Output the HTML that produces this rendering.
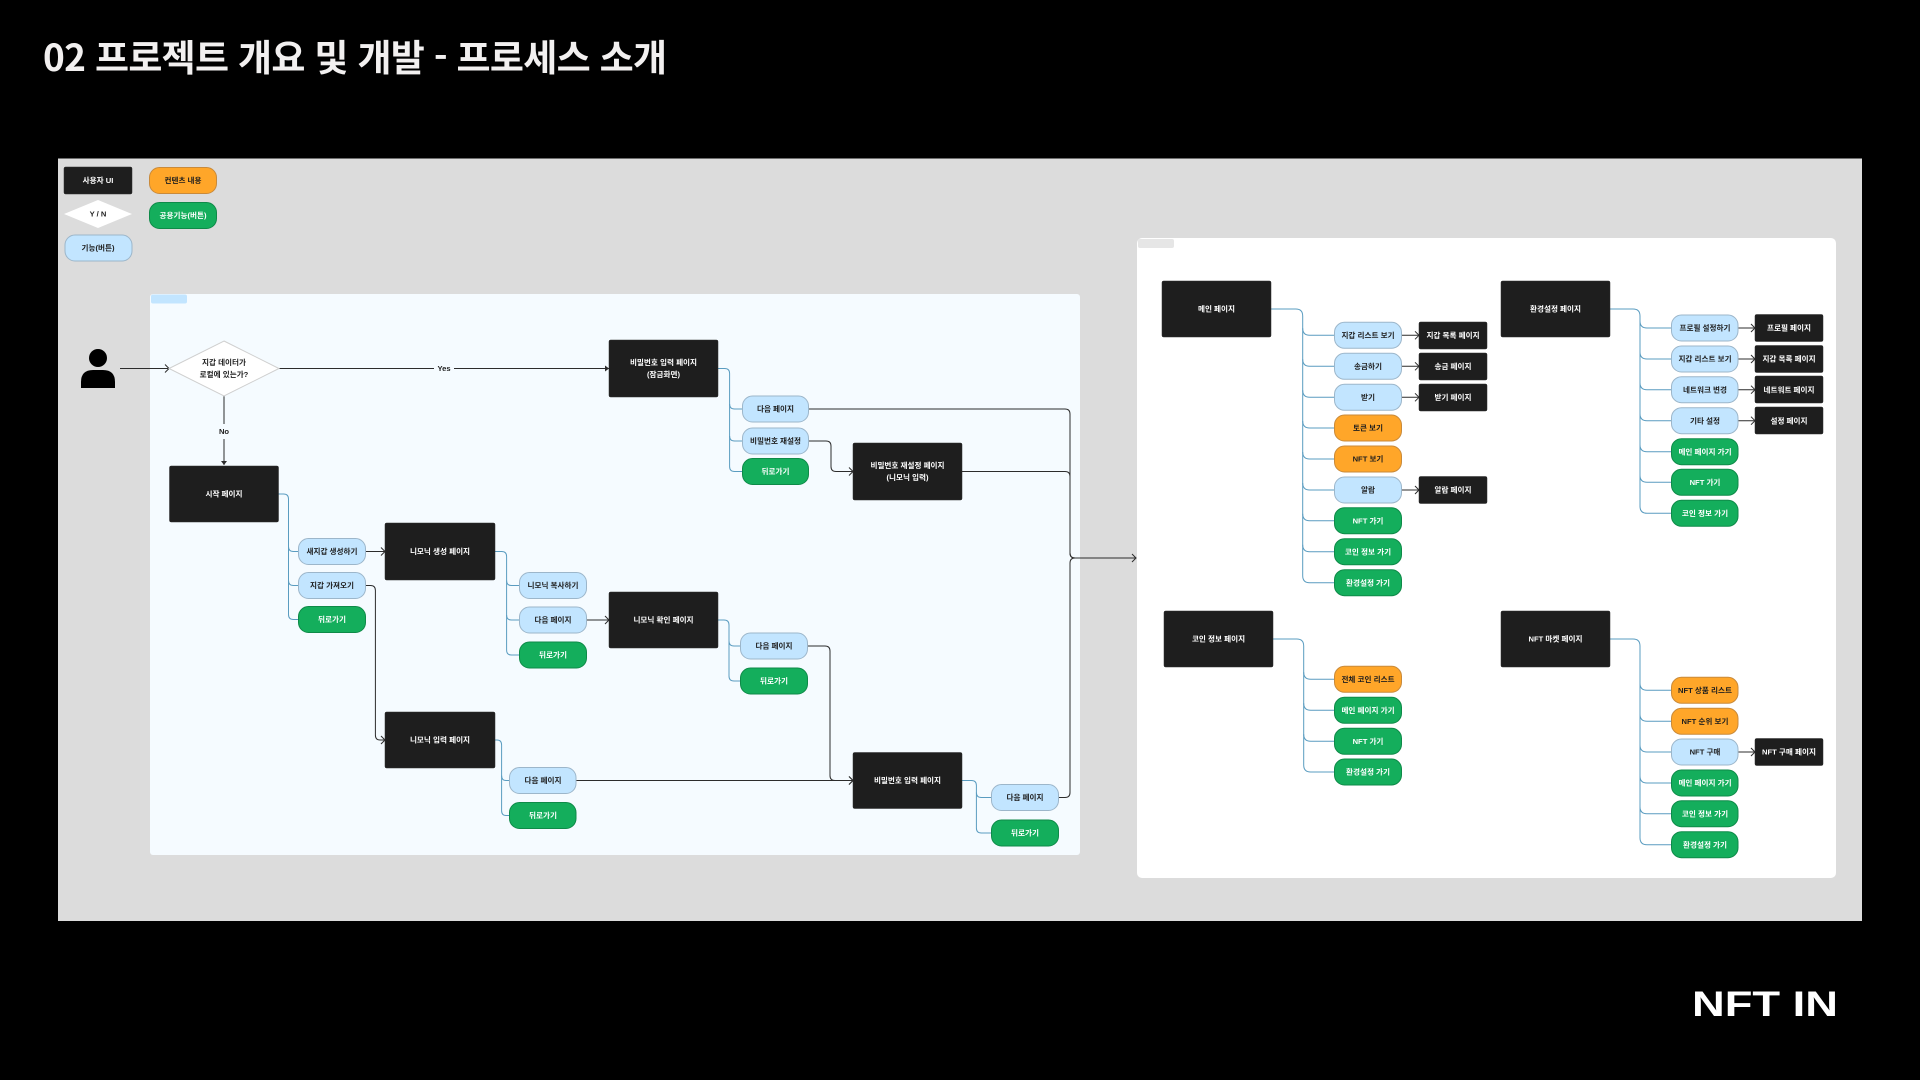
<!DOCTYPE html>
<html lang="ko"><head><meta charset="utf-8"><title>프로세스 소개</title>
<style>
html,body{margin:0;padding:0;background:#000;width:1920px;height:1080px;overflow:hidden}
svg{display:block}
text{font-family:"Liberation Sans","Noto Sans CJK KR",sans-serif;text-anchor:middle;font-size:7.6px;font-weight:700;dominant-baseline:central;transform:translateY(.2px)}
.k rect{fill:#1e1e1e;stroke:#2c2c2c;stroke-width:.5}
.k text{fill:#fff}
.b rect{fill:#c2e5ff;stroke:#9cb6ca;stroke-width:1}
.b text{fill:#1e1e1e}
.o rect{fill:#ffa629;stroke:#c98a3a;stroke-width:1}
.o text{fill:#1e1e1e}
.g rect{fill:#14ae5c;stroke:#0e8a48;stroke-width:1}
.g text{fill:#fff}
.t text{fill:#1e1e1e}
.tr path{fill:none;stroke:#5a9cc0;stroke-width:1}
.dk path,.dk line{fill:none;stroke:#2c2c2c;stroke-width:1}
</style></head><body>
<svg width="1920" height="1080" viewBox="0 0 1920 1080" xmlns="http://www.w3.org/2000/svg">
<defs>
<marker id="o" markerUnits="userSpaceOnUse" markerWidth="12" markerHeight="12" refX="6" refY="6" orient="auto" overflow="visible"><path d="M2 2L6 6L2 10" fill="none" stroke="#2c2c2c" stroke-width="1"/></marker>
<marker id="f" markerUnits="userSpaceOnUse" markerWidth="8" markerHeight="8" refX="4" refY="4" orient="auto" overflow="visible"><path d="M0 1L4 4L0 7Z" fill="#2c2c2c"/></marker>
</defs>
<rect width="1920" height="1080" fill="#000"/>
<text x="355" y="55" style="font-family:'Noto Sans CJK KR',sans-serif;font-size:37px;font-weight:700;fill:#f2f0f0;transform:none" textLength="624" lengthAdjust="spacing">02 프로젝트 개요 및 개발 - 프로세스 소개</text>

<rect x="58" y="158.500" width="1804" height="762.500" fill="#dcdcdc"/>
<rect x="150" y="294" width="930" height="561" rx="3" fill="#f5fbff"/>
<rect x="151" y="294.500" width="36" height="9" rx="2" fill="#c2e5ff"/>
<rect x="1137" y="238" width="699" height="640" rx="5" fill="#fff"/>
<rect x="1138" y="239" width="36" height="9" rx="2" fill="#e6e6e6"/>

<!-- legend -->
<g class="k"><rect x="64" y="167" width="68" height="27" rx="1.500"/><text x="98" y="180.500">사용자 UI</text></g>
<polygon points="98,200 132,214 98,228 64,214" fill="#fff"/><g class="t"><text x="98" y="214">Y / N</text></g>
<g class="b"><rect x="65" y="235" width="67" height="26" rx="10"/><text x="98" y="248">기능(버튼)</text></g>
<g class="o"><rect x="149.500" y="167.500" width="67" height="26" rx="10"/><text x="183" y="180.500">컨텐츠 내용</text></g>
<g class="g"><rect x="149.500" y="202.500" width="67" height="26" rx="10"/><text x="183" y="215.500">공용기능(버튼)</text></g>

<!-- person -->
<circle cx="98" cy="358" r="9" fill="#000"/>
<path d="M81 388V382Q81 370 93 370H103Q115 370 115 382V388Z" fill="#000"/>

<!-- dark connectors -->
<g class="dk">
<path d="M120 368.500H169" marker-end="url(#o)"/>
<path d="M279 368.500H609" marker-end="url(#f)"/>
<path d="M224 396V465" marker-end="url(#f)"/>
<path d="M366 551.500H385" marker-end="url(#o)"/>
<path d="M366 585.500H370.500Q375.400 585.500 375.400 590.500V735Q375.400 740 380 740H385" marker-end="url(#o)"/>
<path d="M587 620H609" marker-end="url(#o)"/>
<path d="M576 780.500H853" marker-end="url(#o)"/>
<path d="M808 646H825Q830 646 830 651V775.500Q830 780.500 835 780.500H853" marker-end="url(#o)"/>
<path d="M809 441H826Q831 441 831 446V466.500Q831 471.500 836 471.500H853" marker-end="url(#o)"/>
<path d="M809 409H1065Q1070 409 1070 414V553Q1070 558 1075 558"/>
<path d="M962 471.500H1065Q1070 471.500 1070 476.500V553Q1070 558 1075 558H1136" marker-end="url(#o)"/>
<path d="M1059 797.500H1065Q1070 797.500 1070 792.500V563Q1070 558 1075 558"/>
<path d="M1402 335.300H1419" marker-end="url(#o)"/>
<path d="M1402 366.300H1419" marker-end="url(#o)"/>
<path d="M1402 397.300H1419" marker-end="url(#o)"/>
<path d="M1402 490H1419" marker-end="url(#o)"/>
<path d="M1738 328H1755" marker-end="url(#o)"/>
<path d="M1738 359H1755" marker-end="url(#o)"/>
<path d="M1738 389.700H1755" marker-end="url(#o)"/>
<path d="M1738 420.700H1755" marker-end="url(#o)"/>
<path d="M1738 752H1755" marker-end="url(#o)"/>
</g>
<rect x="434" y="362" width="20" height="12" fill="#f5fbff"/>
<rect x="216" y="424" width="16" height="15" fill="#f5fbff"/>
<g class="t"><text x="444" y="368.500">Yes</text><text x="224" y="431.500">No</text></g>

<!-- tree connectors -->
<g class="tr">
<path d="M278.500 494H283.500Q288.500 494 288.500 499V614.500Q288.500 619.500 293.500 619.500H298"/>
<path d="M288.500 546.500Q288.500 551.500 293.500 551.500H298M288.500 580.500Q288.500 585.500 293.500 585.500H298"/>
<path d="M495 551.500H501.600Q506.600 551.500 506.600 556.500V650Q506.600 655 511.600 655H519"/>
<path d="M506.600 580.500Q506.600 585.500 511.600 585.500H519M506.600 615Q506.600 620 511.600 620H519"/>
<path d="M495 740H497Q501.600 740 501.600 745V810.500Q501.600 815.500 506 815.500H509"/>
<path d="M501.600 775.500Q501.600 780.500 506 780.500H509"/>
<path d="M718 368.500H724.600Q729.600 368.500 729.600 373.500V466.500Q729.600 471.500 734.600 471.500H742"/>
<path d="M729.600 404Q729.600 409 734.600 409H742M729.600 436Q729.600 441 734.600 441H742"/>
<path d="M718 620H724Q729 620 729 625V676Q729 681 734 681H740"/>
<path d="M729 641Q729 646 734 646H740"/>
<path d="M962 780.500H971.400Q976.400 780.500 976.400 785.500V828Q976.400 833 981.400 833H991"/>
<path d="M976.400 792.500Q976.400 797.500 981.400 797.500H991"/>
<!-- main -->
<path d="M1271 309H1295.700Q1302.700 309 1302.700 316V575.700Q1302.700 582.700 1309.700 582.700H1334"/>
<path d="M1302.700 328.300Q1302.700 335.300 1309.700 335.300H1334M1302.700 359.300Q1302.700 366.300 1309.700 366.300H1334M1302.700 390.300Q1302.700 397.300 1309.700 397.300H1334M1302.700 421Q1302.700 428 1309.700 428H1334M1302.700 452Q1302.700 459 1309.700 459H1334M1302.700 483Q1302.700 490 1309.700 490H1334M1302.700 513.700Q1302.700 520.700 1309.700 520.700H1334M1302.700 544.700Q1302.700 551.700 1309.700 551.700H1334"/>
<!-- settings -->
<path d="M1610 309H1633Q1640 309 1640 316V506.300Q1640 513.300 1647 513.300H1671"/>
<path d="M1640 321Q1640 328 1647 328H1671M1640 352Q1640 359 1647 359H1671M1640 382.700Q1640 389.700 1647 389.700H1671M1640 413.700Q1640 420.700 1647 420.700H1671M1640 444.700Q1640 451.700 1647 451.700H1671M1640 475.300Q1640 482.300 1647 482.300H1671"/>
<!-- coin -->
<path d="M1273 639H1296.700Q1303.700 639 1303.700 646V765Q1303.700 772 1310.700 772H1334"/>
<path d="M1303.700 672.300Q1303.700 679.300 1310.700 679.300H1334M1303.700 703.300Q1303.700 710.300 1310.700 710.300H1334M1303.700 734.300Q1303.700 741.300 1310.700 741.300H1334"/>
<!-- nft -->
<path d="M1610 639H1633Q1640 639 1640 646V837.700Q1640 844.700 1647 844.700H1671"/>
<path d="M1640 683.300Q1640 690.300 1647 690.300H1671M1640 714.300Q1640 721.300 1647 721.300H1671M1640 745Q1640 752 1647 752H1671M1640 776Q1640 783 1647 783H1671M1640 806.700Q1640 813.700 1647 813.700H1671"/>
</g>

<!-- decision -->
<polygon points="224,341 279,368.500 224,396 169,368.500" fill="#fff" stroke="#cfcfcf" stroke-width="1"/>
<g class="t"><text x="224" y="362.500">지갑 데이터가</text><text x="224" y="374.500">로컬에 있는가?</text></g>

<!-- left boxes -->
<g class="k">
<rect x="609" y="340" width="109" height="57" rx="1.500"/><text x="663.500" y="362.500">비밀번호 입력 페이지</text><text x="663.500" y="374.500">(잠금화면)</text>
<rect x="169.500" y="466" width="109" height="56" rx="1.500"/><text x="224" y="494">시작 페이지</text>
<rect x="385" y="523" width="110" height="57" rx="1.500"/><text x="440" y="551.500">니모닉 생성 페이지</text>
<rect x="385" y="712" width="110" height="56" rx="1.500"/><text x="440" y="740">니모닉 입력 페이지</text>
<rect x="609" y="592" width="109" height="56" rx="1.500"/><text x="663.500" y="620">니모닉 확인 페이지</text>
<rect x="853" y="443" width="109" height="57" rx="1.500"/><text x="907.500" y="465.500">비밀번호 재설정 페이지</text><text x="907.500" y="477.500">(니모닉 입력)</text>
<rect x="853" y="752.500" width="109" height="56" rx="1.500"/><text x="907.500" y="780.500">비밀번호 입력 페이지</text>
</g>

<!-- left pills -->
<g class="b">
<rect x="298.500" y="538.500" width="67" height="26" rx="10"/><text x="332" y="551.500">새지갑 생성하기</text>
<rect x="298.500" y="572.500" width="67" height="26" rx="10"/><text x="332" y="585.500">지갑 가져오기</text>
<rect x="519.500" y="572.500" width="67" height="26" rx="10"/><text x="553" y="585.500">니모닉 복사하기</text>
<rect x="519.500" y="607" width="67" height="26" rx="10"/><text x="553" y="620">다음 페이지</text>
<rect x="509.500" y="767.500" width="66.500" height="26" rx="10"/><text x="543" y="780.500">다음 페이지</text>
<rect x="742.500" y="396" width="66" height="26" rx="10"/><text x="775.500" y="409">다음 페이지</text>
<rect x="742.500" y="428" width="66" height="26" rx="10"/><text x="775.500" y="441">비밀번호 재설정</text>
<rect x="740.500" y="633" width="67" height="26" rx="10"/><text x="774" y="646">다음 페이지</text>
<rect x="991.500" y="784.500" width="67" height="26" rx="10"/><text x="1025" y="797.500">다음 페이지</text>
</g>
<g class="g">
<rect x="298.500" y="606.500" width="67" height="26" rx="10"/><text x="332" y="619.500">뒤로가기</text>
<rect x="519.500" y="642" width="67" height="26" rx="10"/><text x="553" y="655">뒤로가기</text>
<rect x="509.500" y="802.500" width="66.500" height="26" rx="10"/><text x="543" y="815.500">뒤로가기</text>
<rect x="742.500" y="458.500" width="66" height="26" rx="10"/><text x="775.500" y="471.500">뒤로가기</text>
<rect x="740.500" y="668" width="67" height="26" rx="10"/><text x="774" y="681">뒤로가기</text>
<rect x="991.500" y="820" width="67" height="26" rx="10"/><text x="1025" y="833">뒤로가기</text>
</g>

<!-- right boxes -->
<g class="k">
<rect x="1162" y="281" width="109" height="56" rx="1.500"/><text x="1216.500" y="309">메인 페이지</text>
<rect x="1501" y="281" width="109" height="56" rx="1.500"/><text x="1555.500" y="309">환경설정 페이지</text>
<rect x="1164" y="611" width="109" height="56" rx="1.500"/><text x="1218.500" y="639">코인 정보 페이지</text>
<rect x="1501" y="611" width="109" height="56" rx="1.500"/><text x="1555.500" y="639">NFT 마켓 페이지</text>
<rect x="1419" y="322" width="68" height="27" rx="1.500"/><text x="1453" y="335.300">지갑 목록 페이지</text>
<rect x="1419" y="353" width="68" height="27" rx="1.500"/><text x="1453" y="366.300">송금 페이지</text>
<rect x="1419" y="384" width="68" height="27" rx="1.500"/><text x="1453" y="397.300">받기 페이지</text>
<rect x="1419" y="476.500" width="68" height="27" rx="1.500"/><text x="1453" y="490">알람 페이지</text>
<rect x="1755" y="314.500" width="68" height="27" rx="1.500"/><text x="1789" y="328">프로필 페이지</text>
<rect x="1755" y="345.500" width="68" height="27" rx="1.500"/><text x="1789" y="359">지갑 목록 페이지</text>
<rect x="1755" y="376" width="68" height="27" rx="1.500"/><text x="1789" y="389.700">네트워트 페이지</text>
<rect x="1755" y="407" width="68" height="27" rx="1.500"/><text x="1789" y="420.700">설정 페이지</text>
<rect x="1755" y="738.500" width="68" height="27" rx="1.500"/><text x="1789" y="752">NFT 구매 페이지</text>
</g>

<!-- right pills -->
<g class="b">
<rect x="1334.500" y="322.300" width="67" height="26" rx="10"/><text x="1368" y="335.300">지갑 리스트 보기</text>
<rect x="1334.500" y="353.300" width="67" height="26" rx="10"/><text x="1368" y="366.300">송금하기</text>
<rect x="1334.500" y="384.300" width="67" height="26" rx="10"/><text x="1368" y="397.300">받기</text>
<rect x="1334.500" y="477" width="67" height="26" rx="10"/><text x="1368" y="490">알람</text>
<rect x="1671.500" y="315" width="66.500" height="26" rx="10"/><text x="1705" y="328">프로필 설정하기</text>
<rect x="1671.500" y="346" width="66.500" height="26" rx="10"/><text x="1705" y="359">지갑 리스트 보기</text>
<rect x="1671.500" y="376.700" width="66.500" height="26" rx="10"/><text x="1705" y="389.700">네트워크 변경</text>
<rect x="1671.500" y="407.700" width="66.500" height="26" rx="10"/><text x="1705" y="420.700">기타 설정</text>
<rect x="1671.500" y="739" width="66.500" height="26" rx="10"/><text x="1705" y="752">NFT 구매</text>
</g>
<g class="o">
<rect x="1334.500" y="415" width="67" height="26" rx="10"/><text x="1368" y="428">토큰 보기</text>
<rect x="1334.500" y="446" width="67" height="26" rx="10"/><text x="1368" y="459">NFT 보기</text>
<rect x="1334.500" y="666.300" width="67" height="26" rx="10"/><text x="1368" y="679.300">전체 코인 리스트</text>
<rect x="1671.500" y="677.300" width="66.500" height="26" rx="10"/><text x="1705" y="690.300">NFT 상품 리스트</text>
<rect x="1671.500" y="708.300" width="66.500" height="26" rx="10"/><text x="1705" y="721.300">NFT 순위 보기</text>
</g>
<g class="g">
<rect x="1334.500" y="507.700" width="67" height="26" rx="10"/><text x="1368" y="520.700">NFT 가기</text>
<rect x="1334.500" y="538.700" width="67" height="26" rx="10"/><text x="1368" y="551.700">코인 정보 가기</text>
<rect x="1334.500" y="569.700" width="67" height="26" rx="10"/><text x="1368" y="582.700">환경설정 가기</text>
<rect x="1671.500" y="438.700" width="66.500" height="26" rx="10"/><text x="1705" y="451.700">메인 페이지 가기</text>
<rect x="1671.500" y="469.300" width="66.500" height="26" rx="10"/><text x="1705" y="482.300">NFT 가기</text>
<rect x="1671.500" y="500.300" width="66.500" height="26" rx="10"/><text x="1705" y="513.300">코인 정보 가기</text>
<rect x="1334.500" y="697.300" width="67" height="26" rx="10"/><text x="1368" y="710.300">메인 페이지 가기</text>
<rect x="1334.500" y="728.300" width="67" height="26" rx="10"/><text x="1368" y="741.300">NFT 가기</text>
<rect x="1334.500" y="759" width="67" height="26" rx="10"/><text x="1368" y="772">환경설정 가기</text>
<rect x="1671.500" y="770" width="66.500" height="26" rx="10"/><text x="1705" y="783">메인 페이지 가기</text>
<rect x="1671.500" y="800.700" width="66.500" height="26" rx="10"/><text x="1705" y="813.700">코인 정보 가기</text>
<rect x="1671.500" y="831.700" width="66.500" height="26" rx="10"/><text x="1705" y="844.700">환경설정 가기</text>
</g>

<!-- logo -->
<text x="1765" y="1004.500" style="font-size:35px;font-weight:700;fill:#fff" textLength="146" lengthAdjust="spacingAndGlyphs">NFT IN</text>
</svg>
</body></html>
